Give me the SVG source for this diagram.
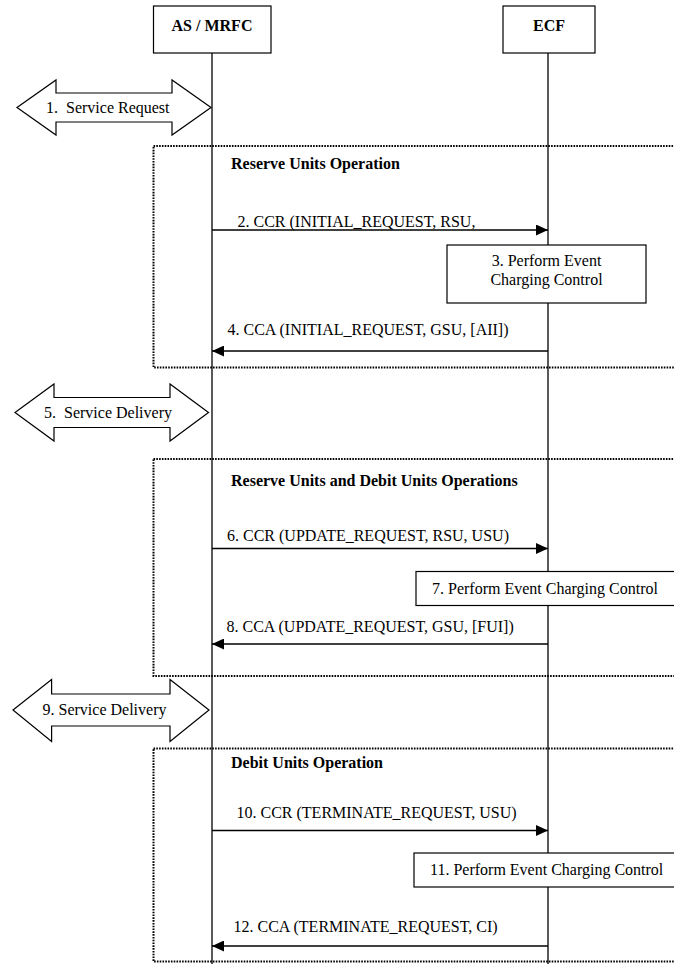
<svg xmlns="http://www.w3.org/2000/svg" width="674" height="964" viewBox="0 0 674 964">
<defs>
<style>
text{font-family:"Liberation Serif","Times New Roman",serif;font-size:16px;fill:#000}
.b{font-weight:bold}
.box{fill:#fff;stroke:#000;stroke-width:1.2}
.life{stroke:#000;stroke-width:1.3}
.dot{fill:none;stroke:#000;stroke-width:2;stroke-dasharray:1.6 1.2}
.msg{stroke:#000;stroke-width:1.3;fill:none}
.dbl{fill:#fff;stroke:#000;stroke-width:1.2}
</style>
<marker id="ah" markerWidth="12" markerHeight="11" refX="12" refY="5.5" orient="auto" markerUnits="userSpaceOnUse">
<path d="M0,0 L12,5.5 L0,11 Z" fill="#000"/>
</marker>
</defs>
<rect width="674" height="964" fill="#fff"/>
<g id="frames">
<rect class="dot" x="153.5" y="146" width="540" height="221.5"/>
<rect class="dot" x="153.5" y="459" width="540" height="217"/>
<rect class="dot" x="153.5" y="748.5" width="540" height="213"/>
</g>
<g id="lifelines">
<line class="life" x1="212" y1="53" x2="212" y2="964"/>
<line class="life" x1="548" y1="53" x2="548" y2="964"/>
</g>
<g id="as-mrfc">
<rect class="box" x="153.5" y="6" width="117.5" height="47"/>
<text class="b" x="212" y="31" text-anchor="middle">AS / MRFC</text>
</g>
<g id="ecf">
<rect class="box" x="503" y="6" width="92" height="47"/>
<text class="b" x="549" y="31" text-anchor="middle">ECF</text>
</g>
<g id="step1">
<path class="dbl" d="M17,107.5 L56,80 L56,93 L172,93 L172,80 L211,107.5 L172,135 L172,122 L56,122 L56,135 Z"/>
<text x="46" y="113" xml:space="preserve">1.  Service Request</text>
</g>
<g id="titles">
<text class="b" x="231" y="168.5">Reserve Units Operation</text>
<text class="b" x="231" y="486">Reserve Units and Debit Units Operations</text>
<text class="b" x="231" y="768">Debit Units Operation</text>
</g>
<g id="step3">
<rect class="box" x="447" y="245" width="199" height="58"/>
<text x="546.5" y="266" text-anchor="middle">3. Perform Event</text>
<text x="546.5" y="285" text-anchor="middle">Charging Control</text>
</g>
<g id="step5">
<path class="dbl" d="M15,412.5 L54,384 L54,397.5 L170,397.5 L170,384 L208.5,412.5 L170,441 L170,427.5 L54,427.5 L54,441 Z"/>
<text x="44" y="418" xml:space="preserve">5.  Service Delivery</text>
</g>
<g id="step7">
<rect class="box" x="416" y="571.5" width="270" height="34"/>
<text x="432" y="593.5">7. Perform Event Charging Control</text>
</g>
<g id="step9">
<path class="dbl" d="M13,710 L51.6,679.5 L51.6,694 L170,694 L170,679.5 L209,710 L170,741.5 L170,726 L51.6,726 L51.6,741.5 Z"/>
<text x="42.5" y="715">9. Service Delivery</text>
</g>
<g id="step11">
<rect class="box" x="414" y="853" width="272" height="34"/>
<text x="430" y="875">11. Perform Event Charging Control</text>
</g>
<g id="connectors">
<line class="msg" x1="212" y1="230" x2="548" y2="230" marker-end="url(#ah)"/>
<line class="msg" x1="548" y1="351" x2="212" y2="351" marker-end="url(#ah)"/>
<line class="msg" x1="212" y1="548.5" x2="548" y2="548.5" marker-end="url(#ah)"/>
<line class="msg" x1="548" y1="644" x2="212" y2="644" marker-end="url(#ah)"/>
<line class="msg" x1="212" y1="830.5" x2="548" y2="830.5" marker-end="url(#ah)"/>
<line class="msg" x1="548" y1="946" x2="212" y2="946" marker-end="url(#ah)"/>
</g>
<g id="labels">
<text x="237.5" y="227">2. CCR (INITIAL_REQUEST, RSU,</text>
<text x="227.5" y="335">4. CCA (INITIAL_REQUEST, GSU, [AII])</text>
<text x="227" y="540.5">6. CCR (UPDATE_REQUEST, RSU, USU)</text>
<text x="226.5" y="632">8. CCA (UPDATE_REQUEST, GSU, [FUI])</text>
<text x="236.5" y="817.5">10. CCR (TERMINATE_REQUEST, USU)</text>
<text x="233.5" y="932">12. CCA (TERMINATE_REQUEST, CI)</text>
</g>
</svg>
